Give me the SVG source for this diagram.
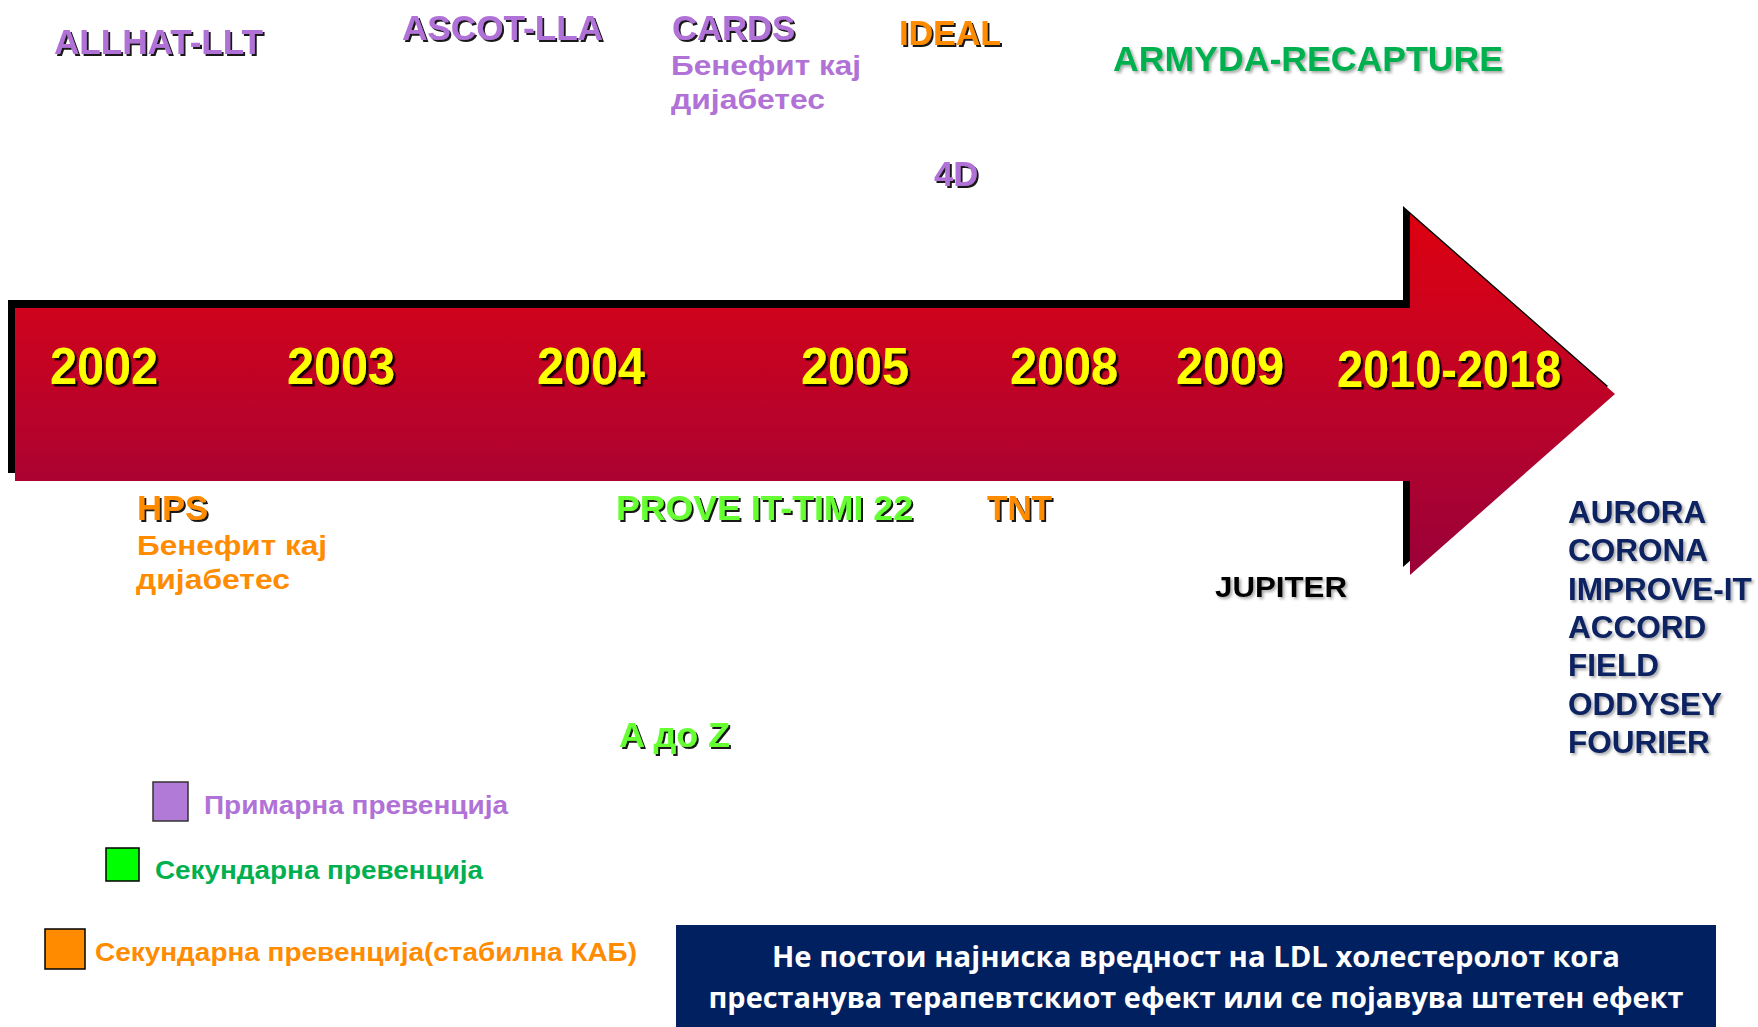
<svg xmlns="http://www.w3.org/2000/svg" width="1758" height="1027" viewBox="0 0 1758 1027">
<defs>
  <linearGradient id="redGrad" x1="0" y1="214" x2="0" y2="575" gradientUnits="userSpaceOnUse">
    <stop offset="0" stop-color="#dc0010"/>
    <stop offset="0.3" stop-color="#cc031e"/>
    <stop offset="0.75" stop-color="#ab0232"/>
    <stop offset="1" stop-color="#9a0038"/>
  </linearGradient>
  <filter id="hard" x="-5%" y="-20%" width="115%" height="150%">
    <feDropShadow dx="2" dy="2" stdDeviation="0.4" flood-color="#000" flood-opacity="0.9"/>
  </filter>
  <filter id="hardYear" x="-5%" y="-20%" width="115%" height="150%">
    <feDropShadow dx="2.5" dy="2.5" stdDeviation="0.5" flood-color="#000" flood-opacity="0.9"/>
  </filter>
  <filter id="soft" x="-5%" y="-20%" width="115%" height="150%">
    <feDropShadow dx="2" dy="2" stdDeviation="1.5" flood-color="#000" flood-opacity="0.35"/>
  </filter>
  <style>
    text { font-family: "Liberation Sans", Arial, sans-serif; font-weight: bold; }
    .year { fill: #ffff00; font-size: 51px; filter: url(#hardYear); }
    .big { font-size: 35px; filter: url(#hard); }
    .purple { fill: #b072d6; }
    .orange { fill: #ff8c00; }
    .lgreen { fill: #66ff33; }
    .dgreen { fill: #00b050; }
    .sub { font-size: 27px; }
    .leg { font-size: 25px; }
    .list { fill: #0a2060; font-size: 31.5px; filter: url(#soft); }
    .box { fill: #ffffff; font-family: "Open Sans", "Liberation Sans", sans-serif; font-size: 28.5px; }
  </style>
</defs>
<rect width="1758" height="1027" fill="#ffffff"/>

<g id="connectors">
  <g id="timeline-arrow">
    <path d="M8,300 H1403 V206 L1608,386 L1403,567 V473 H8 Z" fill="#000"/>
    <path d="M15,308 H1410 V214 L1615,394 L1410,575 V481 H15 Z" fill="url(#redGrad)"/>
  </g>
</g>

<g id="years">
  <text class="year" x="50" y="384" textLength="108" lengthAdjust="spacingAndGlyphs">2002</text>
  <text class="year" x="287" y="384" textLength="108" lengthAdjust="spacingAndGlyphs">2003</text>
  <text class="year" x="537" y="384" textLength="108" lengthAdjust="spacingAndGlyphs">2004</text>
  <text class="year" x="801" y="384" textLength="108" lengthAdjust="spacingAndGlyphs">2005</text>
  <text class="year" x="1010" y="384" textLength="108" lengthAdjust="spacingAndGlyphs">2008</text>
  <text class="year" x="1176" y="384" textLength="108" lengthAdjust="spacingAndGlyphs">2009</text>
  <text class="year" x="1337" y="387" font-size="53" textLength="224" lengthAdjust="spacingAndGlyphs">2010-2018</text>
</g>

<g id="allhat"><text class="big purple" x="54" y="54" textLength="209" lengthAdjust="spacingAndGlyphs">ALLHAT-LLT</text></g>
<g id="ascot"><text class="big purple" x="402" y="40" textLength="201" lengthAdjust="spacingAndGlyphs">ASCOT-LLA</text></g>
<g id="cards">
  <text class="big purple" x="672" y="40" textLength="123" lengthAdjust="spacingAndGlyphs">CARDS</text>
  <text class="sub purple" x="671" y="75" textLength="190" lengthAdjust="spacingAndGlyphs">Бенефит кај</text>
  <text class="sub purple" x="671" y="109" textLength="154" lengthAdjust="spacingAndGlyphs">дијабетес</text>
</g>
<g id="ideal"><text class="big orange" x="899" y="45" textLength="102" lengthAdjust="spacingAndGlyphs">IDEAL</text></g>
<g id="armyda"><text class="dgreen" x="1113" y="71" font-size="35" filter="url(#soft)" textLength="390" lengthAdjust="spacingAndGlyphs">ARMYDA-RECAPTURE</text></g>
<g id="fourD"><text class="big purple" x="934" y="186" textLength="44" lengthAdjust="spacingAndGlyphs">4D</text></g>

<g id="hps">
  <text class="big orange" x="137" y="520" textLength="71" lengthAdjust="spacingAndGlyphs">HPS</text>
  <text class="sub orange" x="137" y="555" textLength="190" lengthAdjust="spacingAndGlyphs">Бенефит кај</text>
  <text class="sub orange" x="136" y="589" textLength="154" lengthAdjust="spacingAndGlyphs">дијабетес</text>
</g>
<g id="prove"><text class="big lgreen" x="616" y="520" textLength="297" lengthAdjust="spacingAndGlyphs">PROVE IT-TIMI 22</text></g>
<g id="tnt"><text class="big orange" x="987" y="520" textLength="65" lengthAdjust="spacingAndGlyphs">TNT</text></g>
<g id="atoz"><text class="big lgreen" x="619" y="747" textLength="111" lengthAdjust="spacingAndGlyphs">A до Z</text></g>
<g id="jupiter"><text x="1215" y="597" font-size="30" fill="#000" filter="url(#soft)" textLength="132" lengthAdjust="spacingAndGlyphs">JUPITER</text></g>

<g id="later-trials">
  <text class="list" x="1568" y="523">AURORA</text>
  <text class="list" x="1568" y="561">CORONA</text>
  <text class="list" x="1568" y="600">IMPROVE-IT</text>
  <text class="list" x="1568" y="638">ACCORD</text>
  <text class="list" x="1568" y="676">FIELD</text>
  <text class="list" x="1568" y="715">ODDYSEY</text>
  <text class="list" x="1568" y="753">FOURIER</text>
</g>

<g id="legend-primary">
  <rect x="153" y="782" width="35" height="39" fill="#b07ad6" stroke="#333" stroke-width="1.5"/>
  <text class="leg purple" x="204" y="814" textLength="304" lengthAdjust="spacingAndGlyphs">Примарна превенција</text>
</g>
<g id="legend-secondary">
  <rect x="106" y="848" width="33" height="33" fill="#00ff00" stroke="#000" stroke-width="1.5"/>
  <text class="leg dgreen" x="155" y="879" textLength="328" lengthAdjust="spacingAndGlyphs">Секундарна превенција</text>
</g>
<g id="legend-stable">
  <rect x="45" y="929" width="40" height="40" fill="#ff8c00" stroke="#000" stroke-width="1.5"/>
  <text class="leg orange" x="95" y="961" textLength="542" lengthAdjust="spacingAndGlyphs">Секундарна превенција(стабилна КАБ)</text>
</g>

<g id="note-box">
  <rect x="676" y="925" width="1040" height="102" fill="#00205f"/>
  <text class="box" x="1196" y="967" text-anchor="middle" textLength="848" lengthAdjust="spacingAndGlyphs">Не постои најниска вредност на LDL холестеролот кога</text>
  <text class="box" x="1196" y="1008" text-anchor="middle" textLength="975" lengthAdjust="spacingAndGlyphs">престанува терапевтскиот ефект или се појавува штетен ефект</text>
</g>
</svg>
